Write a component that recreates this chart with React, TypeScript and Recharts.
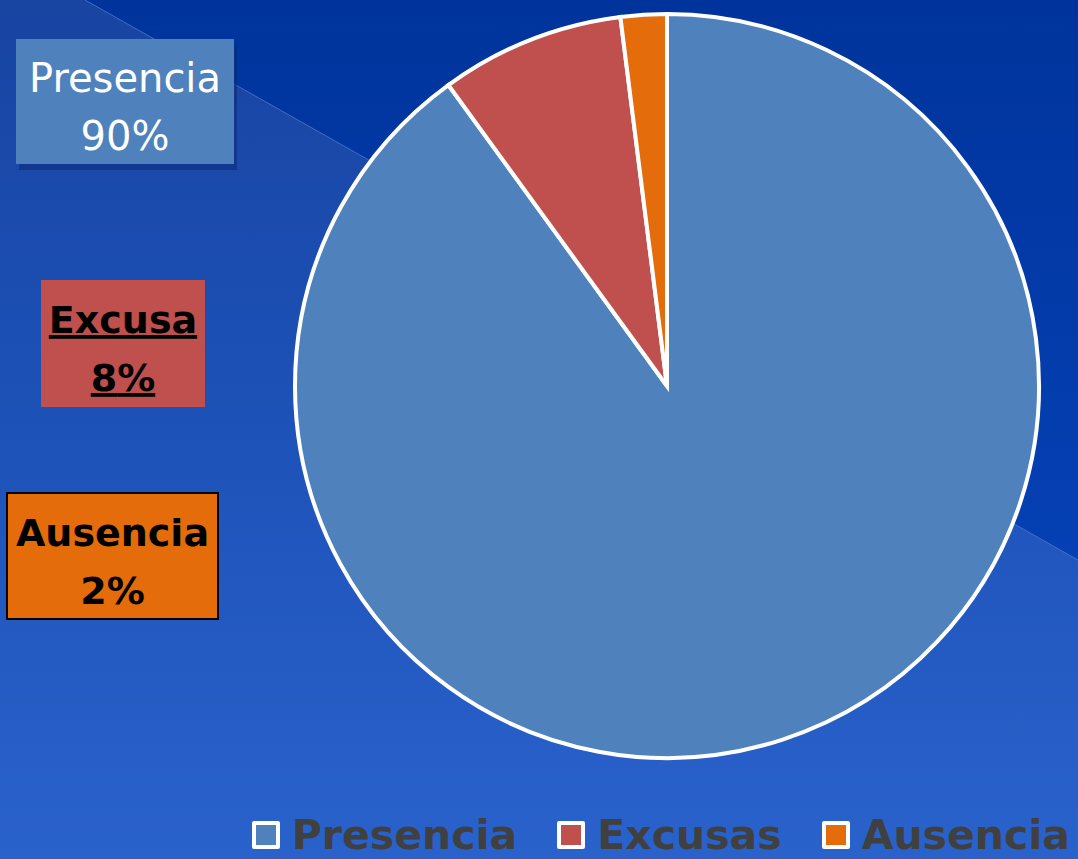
import { PieChart, Pie, Cell, Legend } from "recharts";

const CATEGORIES = ["Presencia", "Excusas", "Ausencia"];
const LABEL_NAMES = ["Presencia", "Excusa", "Ausencia"];
const VALUES = [90, 8, 2];
const COLORS = ["#4F81BD", "#C0504D", "#E46C0A"];

const W = 1078;
const H = 859;
const FONT = "'DejaVu Sans', sans-serif";

const data = CATEGORIES.map((name, i) => ({
  name,
  label: LABEL_NAMES[i],
  value: VALUES[i],
}));

// where the moved data labels sit (left side of the slide)
const BOXES = [
  { x: 16, y: 39, w: 218, h: 125, size: 40, text: "#fff", bold: false, underline: false, border: false, shadow: true },
  { x: 41, y: 280, w: 164, h: 127, size: 38, text: "#000", bold: true, underline: true, border: false, shadow: false },
  { x: 7, y: 493, w: 211, h: 126, size: 38, text: "#000", bold: true, underline: false, border: true, shadow: false },
];

function DataLabel(props: any) {
  const b = BOXES[props.index];
  const d = data[props.index];
  const cx = b.x + b.w / 2;
  const style = {
    fill: b.text,
    fontFamily: FONT,
    fontSize: b.size,
    fontWeight: b.bold ? 700 : 400,
    textDecoration: b.underline ? "underline" : undefined,
  };
  return (
    <g>
      {b.shadow && (
        <rect x={b.x + 3} y={b.y + 6} width={b.w} height={b.h} fill="#0b2a78" opacity={0.55} />
      )}
      <rect
        x={b.x}
        y={b.y}
        width={b.w}
        height={b.h}
        fill={COLORS[props.index]}
        stroke={b.border ? "#000" : "none"}
        strokeWidth={b.border ? 2 : 0}
      />
      <text x={cx} y={b.y + 53} textAnchor="middle" style={style}>
        {d.label}
      </text>
      <text x={cx} y={b.y + 111} textAnchor="middle" style={style}>
        {d.value}%
      </text>
    </g>
  );
}

function LegendContent() {
  return (
    <div style={{ display: "flex", justifyContent: "flex-end", alignItems: "center", gap: 40 }}>
      {data.map((d, i) => (
        <div key={d.name} style={{ display: "flex", alignItems: "center" }}>
          <span
            style={{
              width: 20,
              height: 20,
              background: COLORS[i],
              border: "4px solid #fff",
              borderRadius: 2,
              marginRight: 12,
              display: "inline-block",
            }}
          />
          <span
            style={{
              fontFamily: FONT,
              fontWeight: 700,
              fontSize: 41,
              color: "#404040",
              lineHeight: "44px",
            }}
          >
            {d.name}
          </span>
        </div>
      ))}
    </div>
  );
}

export default function App() {
  return (
    <div
      style={{
        position: "absolute",
        left: 0,
        top: 0,
        width: W,
        height: H,
        overflow: "hidden",
        background: "linear-gradient(180deg, #1844a2 0%, #1d52b8 50%, #2a62cc 100%)",
      }}
    >
      <svg width={W} height={H} style={{ position: "absolute", left: 0, top: 0 }}>
        <defs>
          <linearGradient id="dark" x1="0" y1="0" x2="0" y2="1">
            <stop offset="0%" stopColor="#00349c" />
            <stop offset="100%" stopColor="#0540b4" />
          </linearGradient>
        </defs>
        <polygon points={`85,0 ${W},0 ${W},560`} fill="url(#dark)" />
        <line x1={85} y1={0} x2={W} y2={560} stroke="#5a7fd0" strokeWidth={1} opacity={0.7} />
      </svg>
      <div style={{ position: "absolute", left: 0, top: 0 }}>
        <PieChart width={W} height={H} margin={{ top: 0, right: 0, bottom: 0, left: 0 }}>
          <Pie
            data={data}
            dataKey="value"
            nameKey="name"
            cx={667}
            cy={386}
            outerRadius={372}
            startAngle={90}
            endAngle={-270}
            stroke="#fff"
            strokeWidth={4}
            label={DataLabel}
            labelLine={false}
            isAnimationActive={false}
          >
            {data.map((_, i) => (
              <Cell key={i} fill={COLORS[i]} />
            ))}
          </Pie>
          <Legend
            content={LegendContent}
            verticalAlign="bottom"
            wrapperStyle={{ right: 8, left: "auto", bottom: 2, width: "auto" }}
          />
        </PieChart>
      </div>
    </div>
  );
}
